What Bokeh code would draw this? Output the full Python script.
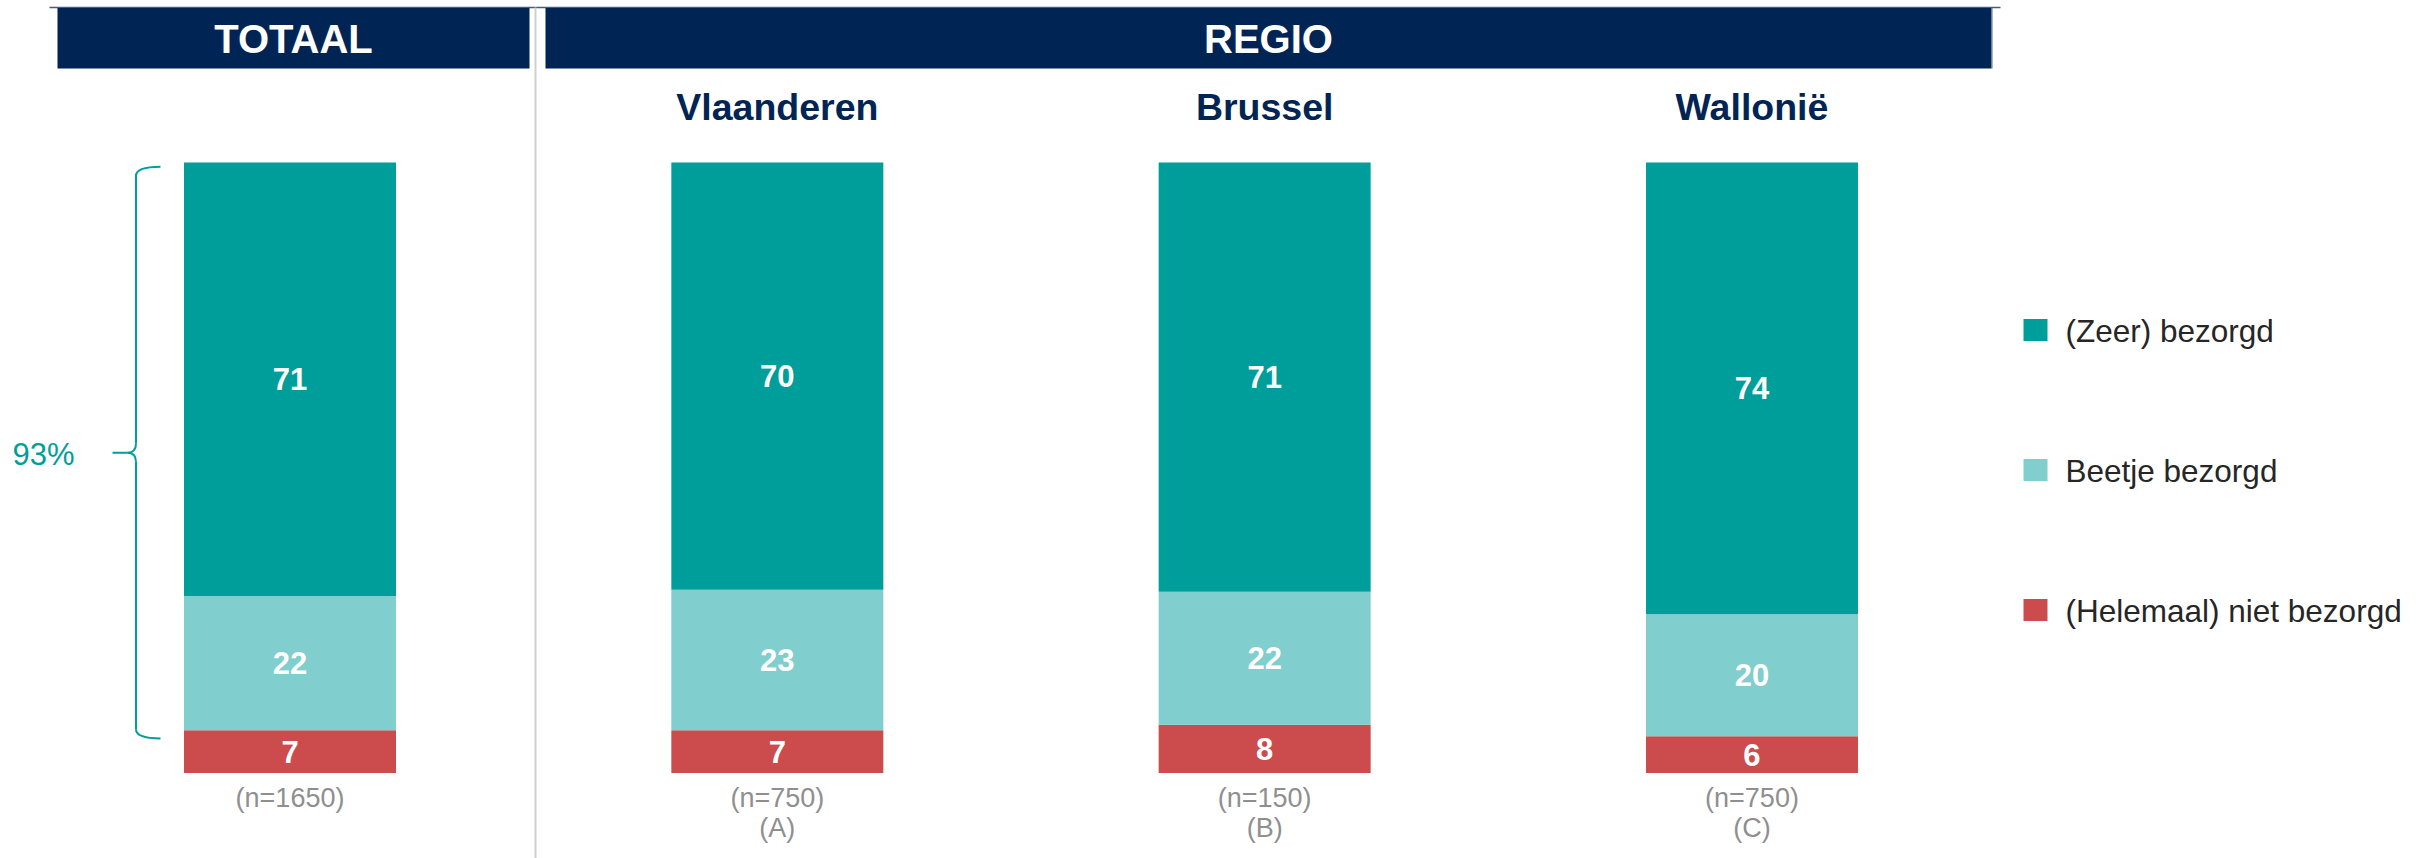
from bokeh.plotting import figure
from bokeh.models import Range1d, ColumnDataSource
from bokeh.embed import file_html
from bokeh.resources import INLINE
from bokeh.core.properties import value

# ---------------- data ----------------
groups = ["TOTAAL", "Vlaanderen", "Brussel", "Wallonië"]
n_labels = ["(n=1650)", "(n=750)", "(n=150)", "(n=750)"]
letters = ["", "(A)", "(B)", "(C)"]
series = ["(Zeer) bezorgd", "Beetje bezorgd", "(Helemaal) niet bezorgd"]
zeer = [71, 70, 71, 74]
beetje = [22, 23, 22, 20]
niet = [7, 7, 8, 6]
header_titles = ["TOTAAL", "REGIO"]

# ---------------- styles ----------------
C_ZEER = "#009E9B"
C_BEETJE = "#80CECD"
C_NIET = "#CC4B4C"
C_NAVY = "#002554"
C_GRAY = "#8F8F8F"
C_TEXT = "#262626"
FONT = "Liberation Sans"
colors = [C_ZEER, C_BEETJE, C_NIET]

W, H = 2433, 858
OFF = 0  # page offset of the figure (Bokeh's page template has no body margin)
# layout: reference page pixel -> data units
BAR_X0, BAR_DX = 289.5, 487.33      # page x of first bar center, spacing
BASE_Y, PX_PER_PCT = 772.5, 6.105   # page y of baseline, px per percent


def X(px):
    return (px - BAR_X0) / BAR_DX


def Y(py):
    return (BASE_Y - py) / PX_PER_PCT


p = figure(width=W, height=H, output_backend="svg", toolbar_location=None,
           x_range=Range1d(X(OFF), X(OFF + W)), y_range=Range1d(Y(OFF + H), Y(OFF)),
           min_border=0, background_fill_color="white", border_fill_color="white")
p.axis.visible = False
p.grid.visible = False
p.outline_line_color = None

# ---------------- stacked bars (normalised to 100%) ----------------
xs = list(range(len(groups)))
tot = [a + b + c for a, b, c in zip(zeer, beetje, niet)]
n_s = [v * 100.0 / t for v, t in zip(niet, tot)]
b_s = [v * 100.0 / t for v, t in zip(beetje, tot)]
z_s = [v * 100.0 / t for v, t in zip(zeer, tot)]

src = ColumnDataSource(dict(x=xs, niet=n_s, beetje=b_s, zeer=z_s))
bar_w = 212 / BAR_DX
p.vbar_stack(["niet", "beetje", "zeer"], x="x", width=bar_w, source=src,
             color=[C_NIET, C_BEETJE, C_ZEER], line_color=None)

# value labels
lab_x, lab_y, lab_t = [], [], []
for i in xs:
    lab_x += [i, i, i]
    lab_y += [n_s[i] / 2, n_s[i] + b_s[i] / 2, n_s[i] + b_s[i] + z_s[i] / 2]
    lab_t += [str(niet[i]), str(beetje[i]), str(zeer[i])]
p.text(x=lab_x, y=lab_y, text=lab_t, text_align="center", text_baseline="middle",
       text_color="white", text_font=value(FONT), text_font_style="bold",
       text_font_size="31px")

# n labels
p.text(x=xs, y=[Y(797)] * 4, text=n_labels, text_align="center",
       text_baseline="middle", text_color=C_GRAY, text_font=value(FONT),
       text_font_size="27px")
p.text(x=xs, y=[Y(827)] * 4, text=letters, text_align="center",
       text_baseline="middle", text_color=C_GRAY, text_font=value(FONT),
       text_font_size="27px")

# sub headers (regions)
p.text(x=xs[1:], y=[Y(106.5)] * 3, text=groups[1:], text_align="center",
       text_baseline="middle", text_color=C_NAVY, text_font=value(FONT),
       text_font_style="bold", text_font_size="37.5px")

# ---------------- header boxes ----------------
p.segment(x0=[X(49)], y0=[Y(7)], x1=[X(2000)], y1=[Y(7)], line_color="#4A5A78", line_width=1.5)
p.quad(left=[X(57), X(545)], right=[X(529), X(1991)], top=[Y(7.5)] * 2, bottom=[Y(68)] * 2,
       fill_color=C_NAVY, line_color=None)
p.segment(x0=[X(1991.5)], y0=[Y(7)], x1=[X(1991.5)], y1=[Y(68)], line_color="#5A6C8C", line_width=1)
p.text(x=[X(293), X(1268)], y=[Y(38.5)] * 2, text=header_titles, text_align="center",
       text_baseline="middle", text_color="white", text_font=value(FONT),
       text_font_style="bold", text_font_size="40px")

# separator
p.segment(x0=[X(535)], y0=[Y(7)], x1=[X(535)], y1=[Y(858)], line_color="#CFCFCF", line_width=2)

# ---------------- brace for top-2 ----------------
hi = 100 - 0.7
lo = niet[0] - 1.35
mid = (hi + lo) / 2
xl, xe, xt, xc = X(135.5), X(160), X(112), X(127)
r = 1.5
p.quadratic(x0=[xe, xe, xc, xc], y0=[hi, lo, mid, mid],
            x1=[xl, xl, xl, xl], y1=[hi - r, lo + r, mid + r, mid - r],
            cx=[xl, xl, xl, xl], cy=[hi, lo, mid, mid], line_color=C_ZEER, line_width=2)
p.segment(x0=[xl, xl, xt], y0=[hi - r, lo + r, mid], x1=[xl, xl, xc], y1=[mid + r, mid - r, mid],
          line_color=C_ZEER, line_width=2)
p.text(x=[X(74)], y=[Y(453.5)], text=[f"{zeer[0] + beetje[0]}%"], text_align="right",
       text_baseline="middle", text_color=C_ZEER, text_font=value(FONT),
       text_font_size="31px")

# ---------------- legend ----------------
leg_sq_y = [Y(329.5), Y(469.5), Y(609.5)]
leg_tx_y = [Y(330), Y(470.5), Y(610.5)]
p.rect(x=[X(2035)] * 3, y=leg_sq_y, width=24, height=22, width_units="screen",
       height_units="screen", fill_color=colors, line_color=None)
p.text(x=[X(2065)] * 3, y=leg_tx_y, text=series, text_align="left",
       text_baseline="middle", text_color=C_TEXT, text_font=value(FONT),
       text_font_size="31.5px")

open("out.html", "w").write(file_html(p, INLINE))
